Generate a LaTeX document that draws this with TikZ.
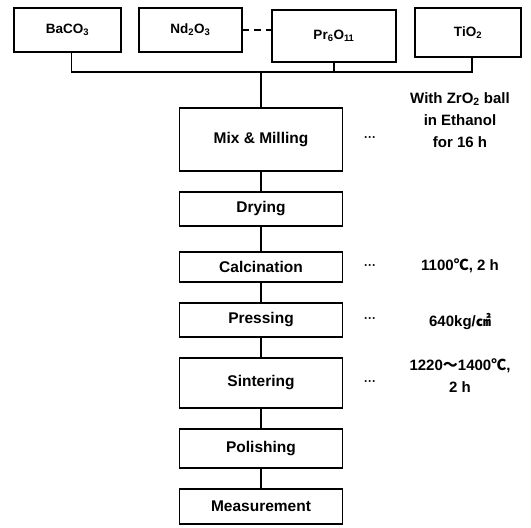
\documentclass[tikz,border=0pt]{standalone}
\usepackage{fontspec}
\setmainfont{Liberation Sans}
\newfontfamily\cjk{Noto Sans CJK KR}
\usetikzlibrary{positioning}

\begin{document}
\begin{tikzpicture}[x=1pt, y=-1pt, node distance=21pt, line width=1.2pt,
  rawbox/.style={draw, inner sep=0pt, outer sep=0pt, font=\bfseries\fontsize{13.5}{16}\selectfont},
  stepbox/.style={draw, inner sep=0pt, outer sep=0pt, minimum width=163pt, font=\bfseries\fontsize{15.5}{19}\selectfont},
  note/.style={align=center, font=\bfseries\fontsize{15}{22}\selectfont},
  dots/.style={inner sep=0pt, font=\bfseries\fontsize{12}{13}\selectfont}]
  \useasboundingbox (0,0) rectangle (531,528);
  % raw powders
  \node[rawbox, minimum width=107pt, minimum height=44pt] (ba) at (67.5,30) {BaCO\textsubscript{3}};
  \node[rawbox, minimum width=103pt, minimum height=44pt] (nd) at (190.5,30) {Nd\textsubscript{2}O\textsubscript{3}};
  \node[rawbox, minimum width=124pt, minimum height=52pt] (pr) at (334,36) {Pr\textsubscript{6}O\textsubscript{11}};
  \node[rawbox, minimum width=106pt, minimum height=49pt] (ti) at (468,32.5) {TiO\textsubscript{2}};
  \draw[dash pattern=on 7pt off 5pt] (nd.east) -- (pr.west |- nd.east);
  % process steps
  \node[stepbox, minimum height=63pt] (mix) at (261,139.5) {Mix \& Milling};
  \node[stepbox, minimum height=34pt, below=of mix] (dry) {Drying};
  \node[stepbox, minimum height=30pt, below=26pt of dry] (calc) {Calcination};
  \node[stepbox, minimum height=34pt, below=of calc] (press) {Pressing};
  \node[stepbox, minimum height=50pt, below=of press] (sint) {Sintering};
  \node[stepbox, minimum height=39pt, below=of sint] (pol) {Polishing};
  \node[stepbox, minimum height=35pt, below=of pol] (meas) {Measurement};
  % bus to mixing
  \coordinate (bus) at (261,72);
  \draw ([xshift=4pt]ba.south) |- (bus) -| ([xshift=4pt]ti.south);
  \draw (pr.south) -- (pr.south |- bus);
  \draw (bus) -- (mix.north);
  \foreach \a/\b in {mix/dry, dry/calc, calc/press, press/sint, sint/pol, pol/meas}
    \draw (\a) -- (\b);
  % conditions
  \foreach \s in {mix, calc, press, sint}
    \node[dots, right=21pt of \s] (\s dots) {···};
  \node[note] (mixnote) at (460,120) {With ZrO\textsubscript{2} ball\\in Ethanol\\for 16 h};
  \node[note] (calcnote) at (460,266) {1100{\cjk ℃}, 2 h};
  \node[note] (pressnote) at (460,321) {640kg/{\cjk ㎠}};
  \node[note] (sintnote) at (460,376) {1220{\cjk ～}1400{\cjk ℃},\\2 h};
\end{tikzpicture}
\end{document}
